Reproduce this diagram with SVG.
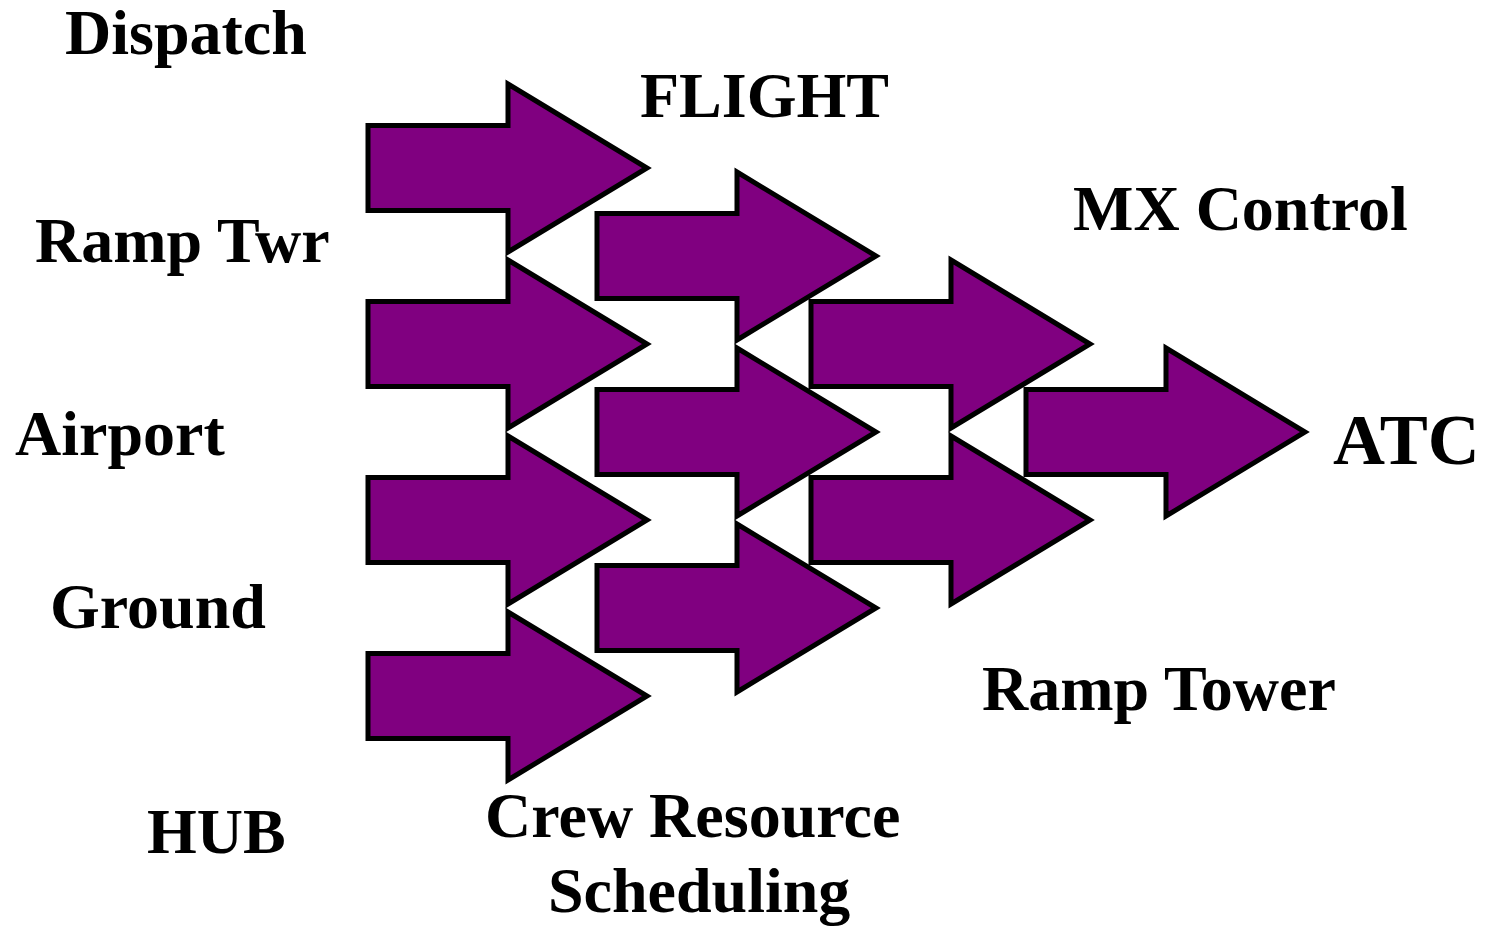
<svg xmlns="http://www.w3.org/2000/svg" width="1491" height="928" viewBox="0 0 1491 928">
<defs>
<style>
.arr{fill:#800080;stroke:#000;stroke-width:5;stroke-linejoin:miter}
.lbl{font-family:"Liberation Serif","Times New Roman",serif;font-weight:bold;font-size:64px;fill:#000}
</style>
<path id="a" d="M0,-42.5 H140 V-84 L279,0 L140,84 V42.5 H0 Z"/>
</defs>
<rect width="1491" height="928" fill="#fff"/>
<g id="connectors"></g>
<g id="col1">
<g id="arrow-1-1"><use href="#a" class="arr" transform="translate(368,168)"/></g>
<g id="arrow-1-2"><use href="#a" class="arr" transform="translate(368,344)"/></g>
<g id="arrow-1-3"><use href="#a" class="arr" transform="translate(368,520)"/></g>
<g id="arrow-1-4"><use href="#a" class="arr" transform="translate(368,696)"/></g>
</g>
<g id="col2">
<g id="arrow-2-1"><use href="#a" class="arr" transform="translate(597,256)"/></g>
<g id="arrow-2-2"><use href="#a" class="arr" transform="translate(597,432)"/></g>
<g id="arrow-2-3"><use href="#a" class="arr" transform="translate(597,608)"/></g>
</g>
<g id="col3">
<g id="arrow-3-1"><use href="#a" class="arr" transform="translate(811,344)"/></g>
<g id="arrow-3-2"><use href="#a" class="arr" transform="translate(811,520)"/></g>
</g>
<g id="col4">
<g id="arrow-4-1"><use href="#a" class="arr" transform="translate(1026,432)"/></g>
</g>
<g id="labels">
<g id="t-dispatch"><text class="lbl" x="65" y="54">Dispatch</text></g>
<g id="t-flight"><text class="lbl" x="640" y="117">FLIGHT</text></g>
<g id="t-rampTwr"><text class="lbl" x="35" y="262">Ramp Twr</text></g>
<g id="t-mx"><text class="lbl" x="1073" y="230">MX Control</text></g>
<g id="t-airport"><text class="lbl" x="15" y="455">Airport</text></g>
<g id="t-atc"><text class="lbl" x="1333" y="464" style="font-size:72px">ATC</text></g>
<g id="t-ground"><text class="lbl" x="50" y="628">Ground</text></g>
<g id="t-rampTower"><text class="lbl" x="982" y="710">Ramp Tower</text></g>
<g id="t-hub"><text class="lbl" x="147" y="853">HUB</text></g>
<g id="t-crew"><text class="lbl" x="485" y="837">Crew Resource</text><text class="lbl" x="548" y="912">Scheduling</text></g>
</g>
</svg>
